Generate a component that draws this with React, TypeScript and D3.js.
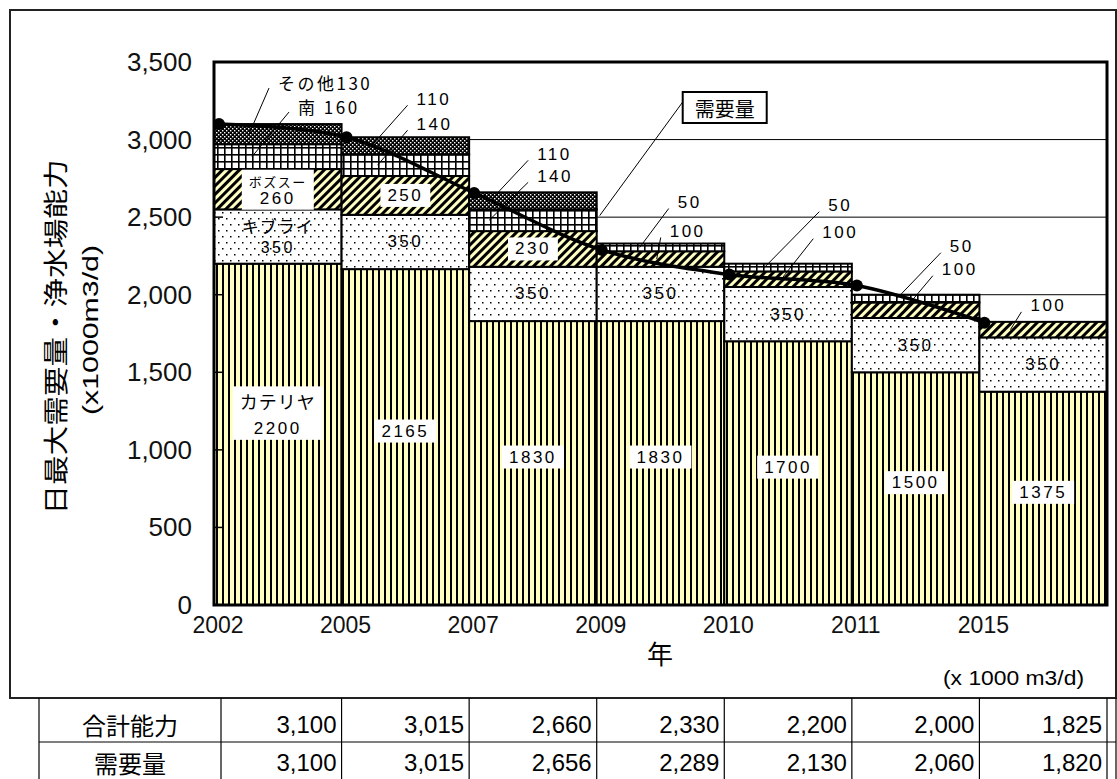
import React, { useEffect, useRef } from "react";
import * as d3 from "d3";

// data (x 1000 m3/d)
const years = ["2002", "2005", "2007", "2009", "2010", "2011", "2015"];
const kateriya = [2200, 2165, 1830, 1830, 1700, 1500, 1375];
const kiburai = [350, 350, 350, 350, 350, 350, 350];
const bosusu = [260, 250, 230, 100, 100, 100, 100];
const minami = [160, 140, 140, 50, 50, 50, 0];
const sonota = [130, 110, 110, 0, 0, 0, 0];
const demand = [3100, 3015, 2656, 2289, 2130, 2060, 1820];
const totalCapacity = [3100, 3015, 2660, 2330, 2200, 2000, 1825];
const yTicks = [0, 500, 1000, 1500, 2000, 2500, 3000, 3500];
const layerKeys = ["kateriya", "kiburai", "bosusu", "minami", "sonota"];

// callouts with leader lines: offsets from the column's left edge / top of the column
const callouts = [
  { col: 0, key: "sonota", prefix: "その他", dx: 64, dy: -42, ex: 35 },
  { col: 0, key: "minami", prefix: "南 ", dx: 84, dy: -18, ex: 38 },
  { col: 1, key: "sonota", prefix: "", dx: 75, dy: -38, ex: 30 },
  { col: 1, key: "minami", prefix: "", dx: 75, dy: -13, ex: 36 },
  { col: 2, key: "sonota", prefix: "", dx: 68, dy: -38, ex: 21 },
  { col: 2, key: "minami", prefix: "", dx: 68, dy: -16, ex: 20 },
  { col: 3, key: "minami", prefix: "", dx: 81, dy: -41, ex: 43 },
  { col: 3, key: "bosusu", prefix: "", dx: 73, dy: -12, ex: 60 },
  { col: 4, key: "minami", prefix: "", dx: 104, dy: -58, ex: 40 },
  { col: 4, key: "bosusu", prefix: "", dx: 98, dy: -31, ex: 57 },
  { col: 5, key: "minami", prefix: "", dx: 98, dy: -48, ex: 45 },
  { col: 5, key: "bosusu", prefix: "", dx: 90, dy: -25, ex: 52 },
  { col: 6, key: "bosusu", prefix: "", dx: 51, dy: -16, ex: 31 },
];

const JP = "'Noto Sans CJK JP', sans-serif";
const NUM = "'Liberation Sans', Arial, sans-serif";
const yellow = "#FFFFC4";

export default function App() {
  const svgRef = useRef<SVGSVGElement>(null);

  useEffect(() => {
    const svg = d3.select(svgRef.current);
    svg.selectAll("*").remove();

    const x = d3.scaleBand<string>().domain(years).range([214, 1107]).padding(0);
    const y = d3.scaleLinear().domain([0, 3500]).range([605, 62]);
    const bw = x.bandwidth();

    const series: Record<string, number[]> = { kateriya, kiburai, bosusu, minami, sonota };
    const rows = years.map((yr, i) => {
      const r: any = { year: yr };
      layerKeys.forEach((k) => (r[k] = series[k][i]));
      return r;
    });
    const stacked = d3.stack<any>().keys(layerKeys)(rows);

    // patterns
    const defs = svg.append("defs");
    const pat = (id: string, w: number, h: number) =>
      defs.append("pattern").attr("id", id).attr("patternUnits", "userSpaceOnUse").attr("width", w).attr("height", h);

    const pK = pat("p-kateriya", 6, 8);
    pK.append("rect").attr("width", 6).attr("height", 8).attr("fill", yellow);
    pK.append("rect").attr("width", 2).attr("height", 8).attr("fill", "#000");

    const pB = pat("p-kiburai", 16, 12);
    pB.append("rect").attr("width", 16).attr("height", 12).attr("fill", "#fff");
    [[2, 2], [10, 2], [6, 8], [14, 8]].forEach(([a, b]) =>
      pB.append("rect").attr("x", a).attr("y", b).attr("width", 1.5).attr("height", 1.5).attr("fill", "#000")
    );

    const pH = pat("p-bosusu", 6, 6).attr("patternTransform", "rotate(45)");
    pH.append("rect").attr("width", 6).attr("height", 6).attr("fill", yellow);
    pH.append("rect").attr("width", 3).attr("height", 6).attr("fill", "#000");

    const pG = pat("p-minami", 7, 7);
    pG.append("rect").attr("width", 7).attr("height", 7).attr("fill", "#fff");
    pG.append("rect").attr("width", 7).attr("height", 1.6).attr("fill", "#000");
    pG.append("rect").attr("width", 1.6).attr("height", 7).attr("fill", "#000");

    const pS = pat("p-sonota", 4, 4);
    pS.append("rect").attr("width", 4).attr("height", 4).attr("fill", "#000");
    [[0, 0], [2, 2]].forEach(([a, b]) =>
      pS.append("rect").attr("x", a).attr("y", b).attr("width", 1.4).attr("height", 1.4).attr("fill", "#fff")
    );

    svg.append("rect").attr("width", 1117).attr("height", 779).attr("fill", "#fff");

    // gridlines
    svg
      .append("g")
      .selectAll("line")
      .data(yTicks.slice(1, -1))
      .join("line")
      .attr("x1", 214)
      .attr("x2", 1107)
      .attr("y1", (d) => y(d))
      .attr("y2", (d) => y(d))
      .attr("stroke", "#000")
      .attr("stroke-width", 1);

    // stacked columns
    stacked.forEach((s) => {
      svg
        .append("g")
        .selectAll("rect")
        .data(s.filter((d) => d[1] - d[0] > 0))
        .join("rect")
        .attr("x", (d) => x(d.data.year)!)
        .attr("y", (d) => y(d[1]))
        .attr("width", bw)
        .attr("height", (d) => y(d[0]) - y(d[1]))
        .attr("fill", `url(#p-${s.key})`)
        .attr("stroke", "#000")
        .attr("stroke-width", 2);
    });

    // labels inside the columns
    const addLabel = (
      cx: number,
      cy: number,
      lines: { t: string; size: number; dy: number; font: string; ls: number }[],
      box: boolean
    ) => {
      const g = svg.append("g");
      lines.forEach((l) =>
        g
          .append("text")
          .attr("x", cx)
          .attr("y", cy + l.dy)
          .attr("text-anchor", "middle")
          .attr("dominant-baseline", "central")
          .attr("font-family", l.font)
          .attr("font-size", l.size)
          .attr("letter-spacing", l.ls)
          .text(l.t)
      );
      if (box) {
        const bb = (g.node() as SVGGElement).getBBox();
        g.insert("rect", "text")
          .attr("x", bb.x - 7)
          .attr("y", bb.y - 2)
          .attr("width", bb.width + 14)
          .attr("height", bb.height + 4)
          .attr("fill", "#fff");
      }
    };

    years.forEach((yr, i) => {
      const cx = x(yr)! + bw / 2;
      const kl = [{ t: String(kateriya[i]), size: 17, dy: 0, font: NUM, ls: 2.5 }];
      if (i === 0) kl.unshift({ t: "カテリヤ", size: 18, dy: -27, font: JP, ls: 1 });
      addLabel(cx, y(kateriya[i] / 2) - 6, kl, true);

      const kb = kateriya[i];
      if (i === 0) {
        addLabel(cx, y(kb + kiburai[i] / 2), [
          { t: "キブライ", size: 17, dy: -11, font: JP, ls: 1 },
          { t: String(kiburai[i]), size: 16, dy: 11, font: NUM, ls: 2.5 },
        ], false);
      } else {
        addLabel(cx, y(kb + kiburai[i] / 2), [{ t: String(kiburai[i]), size: 17, dy: 0, font: NUM, ls: 2.5 }], false);
      }

      const bb = kb + kiburai[i];
      if (i === 0) {
        addLabel(cx, y(bb + bosusu[i] / 2), [
          { t: "ボズスー", size: 13, dy: -8, font: JP, ls: 1.5 },
          { t: String(bosusu[i]), size: 17, dy: 9, font: NUM, ls: 2.5 },
        ], true);
      } else if (i < 3) {
        addLabel(cx, y(bb + bosusu[i] / 2), [{ t: String(bosusu[i]), size: 17, dy: 0, font: NUM, ls: 2.5 }], true);
      }
    });

    // callouts with leader lines
    callouts.forEach((c) => {
      const yr = years[c.col];
      const x0 = x(yr)!;
      const top = layerKeys.reduce((acc, k) => acc + series[k][c.col], 0);
      const li = layerKeys.indexOf(c.key);
      const base = layerKeys.slice(0, li).reduce((acc, k) => acc + series[k][c.col], 0);
      const v = series[c.key][c.col];
      const tx = x0 + c.dx;
      const ty = y(top) + c.dy;
      svg
        .append("line")
        .attr("x1", tx - 9)
        .attr("y1", ty + 6)
        .attr("x2", x0 + c.ex)
        .attr("y2", y(base + v / 2))
        .attr("stroke", "#000")
        .attr("stroke-width", 1);
      svg
        .append("text")
        .attr("x", tx)
        .attr("y", ty)
        .attr("dominant-baseline", "central")
        .attr("font-family", c.prefix ? JP : NUM)
        .attr("font-size", 17)
        .attr("letter-spacing", 2.5)
        .text(c.prefix + v);
    });

    // demand line
    const px = (i: number) => x(years[i])! + 5;
    const line = d3
      .line<number>()
      .x((d, i) => px(i))
      .y((d) => y(d))
      .curve(d3.curveCatmullRom.alpha(0.5));
    svg
      .append("path")
      .attr("d", line(demand))
      .attr("fill", "none")
      .attr("stroke", "#000")
      .attr("stroke-width", 3.5);
    svg
      .append("g")
      .selectAll("circle")
      .data(demand)
      .join("circle")
      .attr("cx", (d, i) => px(i))
      .attr("cy", (d) => y(d))
      .attr("r", 6)
      .attr("fill", "#000");

    // demand callout box
    const bx = x(years[3])! + 86;
    const by = y(3500) + 30;
    svg
      .append("line")
      .attr("x1", bx)
      .attr("y1", by + 10)
      .attr("x2", x(years[3])! + 3)
      .attr("y2", y(2510))
      .attr("stroke", "#000")
      .attr("stroke-width", 1);
    svg
      .append("rect")
      .attr("x", bx)
      .attr("y", by)
      .attr("width", 84)
      .attr("height", 31)
      .attr("fill", "#fff")
      .attr("stroke", "#000")
      .attr("stroke-width", 2);
    svg
      .append("text")
      .attr("x", bx + 42)
      .attr("y", by + 16)
      .attr("text-anchor", "middle")
      .attr("dominant-baseline", "central")
      .attr("font-family", JP)
      .attr("font-size", 20)
      .text("需要量");

    // plot border and inward ticks
    svg
      .append("rect")
      .attr("x", 214)
      .attr("y", y(3500))
      .attr("width", 1107 - 214)
      .attr("height", y(0) - y(3500))
      .attr("fill", "none")
      .attr("stroke", "#000")
      .attr("stroke-width", 3);
    svg
      .append("g")
      .selectAll("line")
      .data(yTicks)
      .join("line")
      .attr("x1", 214)
      .attr("x2", 223)
      .attr("y1", (d) => y(d))
      .attr("y2", (d) => y(d))
      .attr("stroke", "#000")
      .attr("stroke-width", 1.5);

    // y tick labels
    svg
      .append("g")
      .selectAll("text")
      .data(yTicks)
      .join("text")
      .attr("x", 192)
      .attr("y", (d) => y(d))
      .attr("text-anchor", "end")
      .attr("dominant-baseline", "central")
      .attr("font-family", NUM)
      .attr("font-size", 26)
      .attr("fill", "#111")
      .text((d) => d3.format(",")(d));

    // x tick labels
    svg
      .append("g")
      .selectAll("text")
      .data(years)
      .join("text")
      .attr("x", (d) => x(d)! + 4)
      .attr("y", 625)
      .attr("text-anchor", "middle")
      .attr("dominant-baseline", "central")
      .attr("font-family", NUM)
      .attr("font-size", 23)
      .attr("fill", "#111")
      .text((d) => d);

    svg
      .append("text")
      .attr("x", 660)
      .attr("y", 652)
      .attr("text-anchor", "middle")
      .attr("dominant-baseline", "central")
      .attr("font-family", JP)
      .attr("font-size", 26)
      .text("年");

    // y axis title
    svg
      .append("text")
      .attr("transform", "translate(54,337) rotate(-90)")
      .attr("text-anchor", "middle")
      .attr("dominant-baseline", "central")
      .attr("font-family", JP)
      .attr("font-size", 25)
      .attr("textLength", 355)
      .attr("lengthAdjust", "spacingAndGlyphs")
      .text("日最大需要量・浄水場能力");
    svg
      .append("text")
      .attr("transform", "translate(90,330) rotate(-90)")
      .attr("text-anchor", "middle")
      .attr("dominant-baseline", "central")
      .attr("font-family", NUM)
      .attr("font-size", 22)
      .attr("textLength", 170)
      .attr("lengthAdjust", "spacingAndGlyphs")
      .text("(x1000m3/d)");

    svg
      .append("text")
      .attr("x", 1084)
      .attr("y", 678)
      .attr("text-anchor", "end")
      .attr("dominant-baseline", "central")
      .attr("font-family", NUM)
      .attr("font-size", 20)
      .attr("textLength", 141)
      .attr("lengthAdjust", "spacingAndGlyphs")
      .text("(x 1000 m3/d)");

    // outer frame
    svg
      .append("rect")
      .attr("x", 10)
      .attr("y", 10)
      .attr("width", 1106)
      .attr("height", 688)
      .attr("fill", "none")
      .attr("stroke", "#222")
      .attr("stroke-width", 2);

    // table under the chart
    const tTop = 698;
    const tSep = 742;
    const tBot = 786;
    const edges = [39, 221, ...years.slice(1).map((yr) => x(yr)!), 1107, 1116];
    const tg = svg.append("g").attr("stroke", "#000").attr("stroke-width", 1.2);
    edges.forEach((e) => tg.append("line").attr("x1", e).attr("x2", e).attr("y1", tTop).attr("y2", tBot));
    [tSep, tBot].forEach((r) => tg.append("line").attr("x1", 39).attr("x2", 1116).attr("y1", r).attr("y2", r));

    const tableRows = [
      { name: "合計能力", vals: totalCapacity, cy: 724 },
      { name: "需要量", vals: demand, cy: 762 },
    ];
    tableRows.forEach((r) => {
      svg
        .append("text")
        .attr("x", 130)
        .attr("y", r.cy)
        .attr("text-anchor", "middle")
        .attr("dominant-baseline", "central")
        .attr("font-family", JP)
        .attr("font-size", 24)
        .text(r.name);
      r.vals.forEach((v, i) => {
        svg
          .append("text")
          .attr("x", edges[i + 2] - 5)
          .attr("y", r.cy)
          .attr("text-anchor", "end")
          .attr("dominant-baseline", "central")
          .attr("font-family", NUM)
          .attr("font-size", 24)
          .text(d3.format(",")(v));
      });
    });
  }, []);

  return (
    <svg
      ref={svgRef}
      width={1117}
      height={779}
      style={{ position: "absolute", left: 0, top: 0, background: "#fff" }}
    />
  );
}
